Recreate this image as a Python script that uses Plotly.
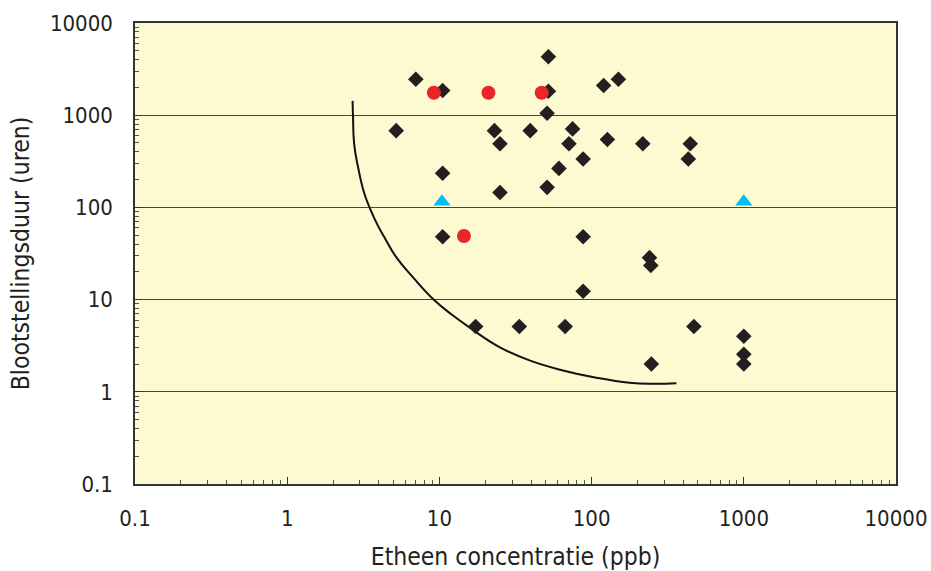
import plotly.graph_objects as go

# Diamond series (black)
dia_x = [5.2, 7.0, 10.5, 10.5, 10.5, 23, 25, 25, 39.5, 52, 52, 51, 51, 61, 71, 75, 88, 88, 88,
         120, 150, 127, 217, 445, 432, 240, 245, 17.3, 33.5, 67, 470, 247, 1000, 1000, 1000]
dia_y = [680, 2450, 1850, 235, 48, 680, 490, 145, 680, 4300, 1820, 1050, 165, 265, 490, 710, 335, 48, 12.3,
         2100, 2450, 545, 490, 490, 335, 28.5, 23.5, 5.1, 5.1, 5.1, 5.1, 2.0, 4.0, 2.55, 2.0]

# Red circles
red_x = [9.2, 21, 47, 14.5]
red_y = [1750, 1750, 1750, 49]

# Blue triangles
tri_x = [10.4, 1000]
tri_y = [115, 115]

# Hand-drawn boundary curve
curve_x = [2.689, 2.705, 2.759, 2.932, 3.186, 3.463, 3.928, 4.461, 5.189, 6.673, 9.271,
           12.23, 16.17, 24.81, 39.09, 64.75, 107.4, 177.8, 253.1, 360.7]
curve_y = [1430, 1008, 475.6, 265.4, 147.8, 101.5, 64.2, 44.1, 29.04, 17.61, 9.826,
           6.752, 4.839, 3.053, 2.189, 1.704, 1.420, 1.252, 1.222, 1.240]

tick_vals = [0.1, 1, 10, 100, 1000, 10000]
tick_text = ["0.1", "1", "10", "100", "1000", "10000"]

FONT = "DejaVu Sans Condensed, Liberation Sans Narrow, sans-serif"

fig = go.Figure()
fig.add_trace(go.Scatter(x=curve_x, y=curve_y, mode="lines",
                         line=dict(color="#111111", width=2, shape="spline", smoothing=1.3),
                         hoverinfo="skip", showlegend=False))
fig.add_trace(go.Scatter(x=dia_x, y=dia_y, mode="markers",
                         marker=dict(symbol="diamond", size=12, color="#231f20"),
                         showlegend=False))
fig.add_trace(go.Scatter(x=red_x, y=red_y, mode="markers",
                         marker=dict(symbol="circle", size=14, color="#e8262a"),
                         showlegend=False))
fig.add_trace(go.Scatter(x=tri_x, y=tri_y, mode="markers",
                         marker=dict(symbol="triangle-up", size=15, color="#00bdf2"),
                         showlegend=False))

axis_common = dict(
    type="log",
    tickmode="array", tickvals=tick_vals, ticktext=tick_text,
    ticks="inside", ticklen=7, tickcolor="#333333", tickwidth=1,
    showline=True, linecolor="#333333", linewidth=1.5, mirror=True,
    tickfont=dict(family=FONT, size=22, color="#231f20"),
    minor=dict(ticks="inside", ticklen=4, tickcolor="#555555", dtick="D1", showgrid=False),
    zeroline=False,
)

fig.update_xaxes(
    range=[-1, 4], showgrid=False,
    title=dict(text="Etheen concentratie (ppb)", font=dict(family=FONT, size=24.5, color="#231f20"), standoff=18),
    ticklabelstandoff=14,
    **axis_common,
)
fig.update_yaxes(
    range=[-1, 4], showgrid=True, gridcolor="#444444", gridwidth=1,
    title=dict(text="Blootstellingsduur (uren)", font=dict(family=FONT, size=24.5, color="#231f20"), standoff=13),
    ticklabelstandoff=16,
    **axis_common,
)

fig.update_layout(
    width=931, height=571,
    margin=dict(l=135, r=35, t=23, b=87, autoexpand=False),
    plot_bgcolor="#fdf9d0", paper_bgcolor="white",
)

fig.write_html("out.html")
